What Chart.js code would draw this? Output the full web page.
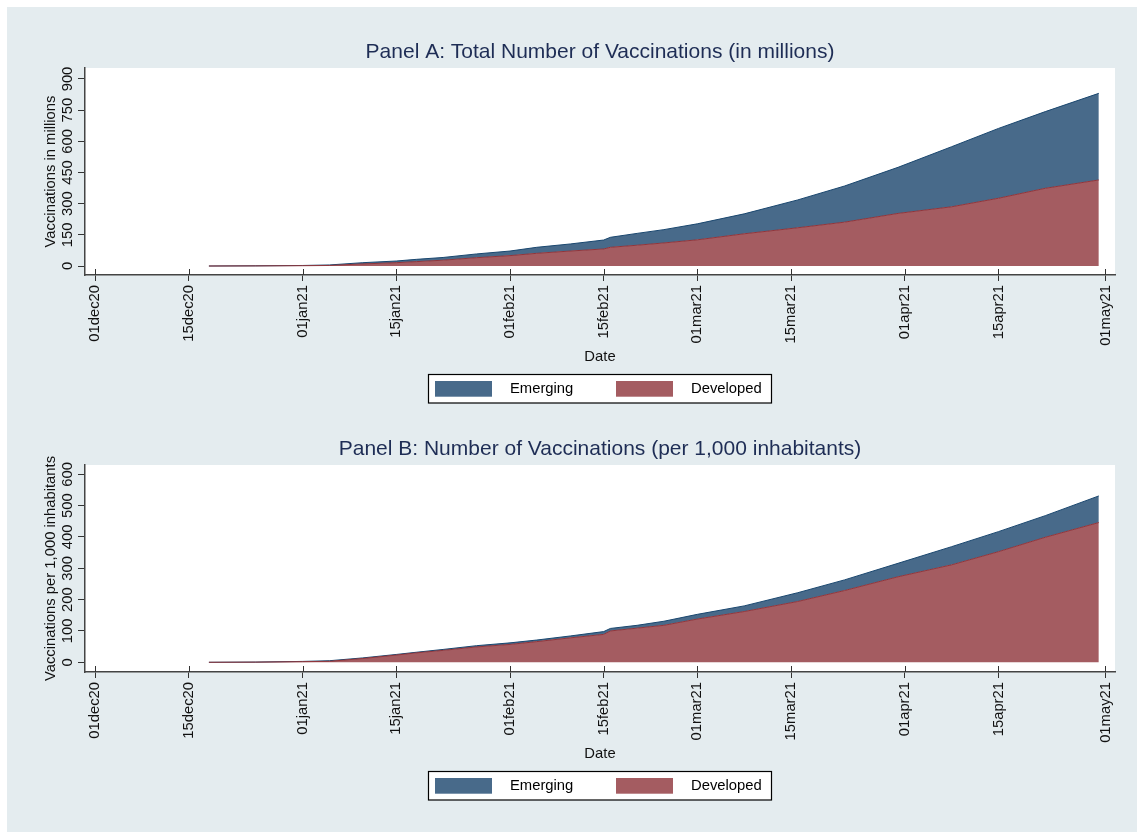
<!DOCTYPE html>
<html>
<head>
<meta charset="utf-8">
<script src="https://cdn.jsdelivr.net/npm/chart.js@4.4.0/dist/chart.umd.min.js"></script>
<style>
  body { margin: 0; background: #fff; }
  #wrap { position: absolute; left: 7px; top: 7px; width: 1130px; height: 825px; background: #e4ecef; }
  canvas { display: block; }
</style>
</head>
<body>
<div id="wrap">
  <canvas id="panelA" width="1130" height="397"></canvas>
  <canvas id="panelB" width="1130" height="397"></canvas>
</div>
<script>
// dates
var dates = ["2020-12-18", "2020-12-25", "2021-01-01", "2021-01-05", "2021-01-10", "2021-01-15",
  "2021-01-18", "2021-01-22", "2021-01-27", "2021-02-01", "2021-02-05", "2021-02-10",
  "2021-02-15", "2021-02-16", "2021-02-20", "2021-02-24", "2021-03-01", "2021-03-08",
  "2021-03-16", "2021-03-23", "2021-03-31", "2021-04-08", "2021-04-15", "2021-04-22", "2021-04-30"];

// Panel A, millions
var developedMil = [0, 0.5, 1.5, 2.5, 10, 16, 21, 28, 40, 50, 61, 72, 82, 90, 100, 111, 126, 155, 184, 211, 253, 285, 326, 374, 414];
var emergingMil = [0, 0.3, 1, 2.5, 6, 8, 11, 13, 18, 22, 29, 34, 43, 48, 57, 64, 77, 96, 134, 174, 222, 289, 336, 369, 417];

// Panel B, per 1,000 inhabitants
var developedPer = [0, 0.5, 2, 3, 12, 23, 30, 38, 49, 57, 66, 78, 89, 100, 109, 118, 138, 162, 194, 229, 273, 311, 353, 399, 446];
var emergingPer = [0, 0.2, 0.8, 2, 2, 2, 2, 3, 4, 5, 5, 6, 9, 8, 9, 13, 15, 18, 28, 34, 43, 58, 64, 69, 85];

var xTickDates = ["2020-12-01", "2020-12-15", "2021-01-01", "2021-01-15", "2021-02-01", "2021-02-15",
  "2021-03-01", "2021-03-15", "2021-04-01", "2021-04-15", "2021-05-01"];
var xTickLabels = ["01dec20", "15dec20", "01jan21", "15jan21", "01feb21", "15feb21",
  "01mar21", "15mar21", "01apr21", "15apr21", "01may21"];
var yTicksA = [0, 150, 300, 450, 600, 750, 900];
var yTicksB = [0, 100, 200, 300, 400, 500, 600];

var FONT = "'Liberation Sans', Arial, sans-serif";
var day0 = Date.parse("2020-12-01");
function dayNum(s) { return (Date.parse(s) - day0) / 86400000; }
function pts(vals) {
  return dates.map(function(d, i) { return { x: dayNum(d), y: vals[i] }; });
}
var xTickDays = xTickDates.map(dayNum);

var whiteArea = {
  id: 'whiteArea',
  beforeDraw: function(chart) {
    var a = chart.chartArea, ctx = chart.ctx;
    ctx.save();
    ctx.fillStyle = '#ffffff';
    ctx.fillRect(a.left, a.top, a.right - a.left, a.bottom - a.top);
    ctx.restore();
  }
};

// rotated y tick labels + x ticks crossing the axis
var axisBits = {
  id: 'axisBits',
  afterDraw: function(chart) {
    var s = chart.scales.y, sx = chart.scales.x, ctx = chart.ctx;
    ctx.save();
    ctx.fillStyle = '#111';
    ctx.font = '14.8px ' + FONT;
    ctx.textAlign = 'center';
    ctx.textBaseline = 'middle';
    s.ticks.forEach(function(t) {
      ctx.save();
      ctx.translate(s.right - 17.5, s.getPixelForValue(t.value));
      ctx.rotate(-Math.PI / 2);
      ctx.fillText(String(t.value), 0, 0);
      ctx.restore();
    });
    ctx.strokeStyle = '#333';
    ctx.lineWidth = 1;
    sx.ticks.forEach(function(t) {
      var x = Math.round(sx.getPixelForValue(t.value)) + 0.5;
      ctx.beginPath();
      ctx.moveTo(x, sx.top - 6);
      ctx.lineTo(x, sx.top);
      ctx.stroke();
    });
    ctx.restore();
  }
};

// boxed legend, Stata style
var legendBox = {
  id: 'legendBox',
  afterDraw: function(chart) {
    var a = chart.chartArea, ctx = chart.ctx;
    var cx = (a.left + a.right) / 2, top = a.bottom + 99.5;
    ctx.save();
    ctx.fillStyle = '#fff';
    ctx.fillRect(cx - 171.5, top, 343, 28.5);
    ctx.strokeStyle = '#000';
    ctx.lineWidth = 1.2;
    ctx.strokeRect(cx - 171.5, top, 343, 28.5);
    var items = [chart.data.datasets[1], chart.data.datasets[0]];
    ctx.font = '14.8px ' + FONT;
    ctx.textBaseline = 'middle';
    items.forEach(function(ds, i) {
      var x0 = cx - 165 + i * 181;
      ctx.fillStyle = ds.backgroundColor;
      ctx.fillRect(x0, top + 6.5, 57, 15.7);
      ctx.fillStyle = '#000';
      ctx.fillText(ds.label, x0 + 75, top + 14.8);
    });
    ctx.restore();
  }
};

function makePanel(id, title, yTitle, dev, eme, yTicks, yMin, yMax) {
  return new Chart(document.getElementById(id), {
    type: 'line',
    data: {
      datasets: [{
        label: 'Developed',
        data: pts(dev),
        backgroundColor: '#a45c61',
        borderColor: '#90353b',
        borderWidth: 1,
        fill: 'origin',
        pointRadius: 0,
        tension: 0
      }, {
        label: 'Emerging',
        data: pts(eme),
        backgroundColor: '#486a8a',
        borderColor: '#1a476f',
        borderWidth: 1,
        fill: '-1',
        pointRadius: 0,
        tension: 0
      }]
    },
    options: {
      responsive: false,
      animation: false,
      events: [],
      layout: { padding: { left: 0, right: 22, top: 0, bottom: 38 } },
      plugins: {
        legend: { display: false },
        tooltip: { enabled: false },
        title: {
          display: true,
          text: title,
          fullSize: false,
          color: '#1e2d55',
          font: { family: FONT, size: 21, weight: 'normal', lineHeight: 1.2 },
          padding: { top: 32.9, bottom: 2.9 }
        }
      },
      scales: {
        x: {
          type: 'linear',
          min: -1.52,
          max: 152.42,
          afterBuildTicks: function(s) {
            s.ticks = xTickDays.map(function(v) { return { value: v }; });
          },
          afterFit: function(s) { s.height = 91; },
          grid: { drawOnChartArea: false, tickLength: 6, tickColor: '#333', tickWidth: 1 },
          border: { color: '#444', width: 1.5 },
          ticks: {
            autoSkip: false,
            minRotation: 90,
            maxRotation: 90,
            padding: 4,
            color: '#111',
            font: { family: FONT, size: 14.8 },
            callback: function(v, i) { return xTickLabels[i]; }
          },
          title: {
            display: true,
            text: 'Date',
            color: '#111',
            font: { family: FONT, size: 14.8, lineHeight: 1.2 },
            padding: { top: 0, bottom: 0 }
          }
        },
        y: {
          stacked: true,
          min: yMin,
          max: yMax,
          afterBuildTicks: function(s) {
            s.ticks = yTicks.map(function(v) { return { value: v }; });
          },
          afterFit: function(s) { s.width = 78; },
          grid: { drawOnChartArea: false, tickLength: 7, tickColor: '#333', tickWidth: 1 },
          border: { color: '#444', width: 1.5 },
          ticks: { display: false },
          title: {
            display: true,
            text: yTitle,
            color: '#111',
            font: { family: FONT, size: 14.8, lineHeight: 1.2 },
            padding: { top: 35.1, bottom: 0 }
          }
        }
      }
    },
    plugins: [whiteArea, axisBits, legendBox]
  });
}

makePanel('panelA', 'Panel A: Total Number of Vaccinations (in millions)', 'Vaccinations in millions',
  developedMil, emergingMil, yTicksA, -43.3, 952.9);
makePanel('panelB', 'Panel B: Number of Vaccinations (per 1,000 inhabitants)', 'Vaccinations per 1,000 inhabitants',
  developedPer, emergingPer, yTicksB, -31, 629.7);
</script>
</body>
</html>
